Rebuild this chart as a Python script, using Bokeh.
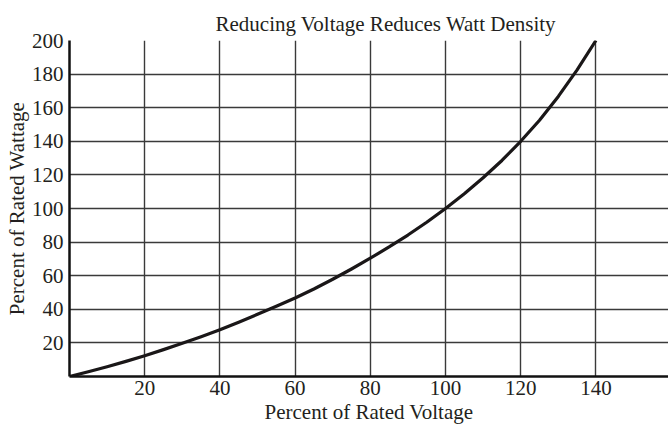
from bokeh.plotting import figure
from bokeh.models import Range1d, FixedTicker, Title
from bokeh.embed import file_html
from bokeh.resources import INLINE

# Data
voltage = [0, 5, 10, 15, 20, 25, 30, 35, 40, 45, 50, 55, 60, 65, 70, 75, 80,
           85, 90, 95, 100, 105, 110, 115, 120, 125, 130, 135, 140]
wattage = [0, 2.8, 5.8, 9.0, 12.4, 16.0, 19.8, 23.7, 27.8, 32.3, 37.0, 41.8, 46.7,
           52.1, 57.9, 64.0, 70.4, 77.1, 84.2, 91.8, 100, 108.8, 118.3, 128.6, 140,
           152.5, 166.7, 182.5, 200]
x_ticks = [20, 40, 60, 80, 100, 120, 140]
y_ticks = [20, 40, 60, 80, 100, 120, 140, 160, 180, 200]

title_text = "Reducing Voltage Reduces Watt Density"
x_label = "Percent of Rated Voltage"
y_label = "Percent of Rated Wattage"

FONT = "Liberation Serif"
TXT = "#231f20"

p = figure(width=668, height=426, output_backend="svg", toolbar_location=None,
           x_range=Range1d(0, 159.3), y_range=Range1d(0, 200),
           min_border_left=69, min_border_right=0, min_border_top=40, min_border_bottom=48)
p.title = None
p.add_layout(Title(text=title_text, align="left", offset=146, text_font=FONT,
                   text_font_size="21px", text_font_style="normal", text_color=TXT,
                   standoff=10), "above")

p.outline_line_color = None
p.background_fill_color = "white"
p.border_fill_color = "white"

p.line(voltage, wattage, line_color="#1a1718", line_width=3.2, line_join="round")

for ax in (p.xaxis[0], p.yaxis[0]):
    ax.axis_line_color = "#111111"
    ax.axis_line_width = 2.5
    ax.major_tick_line_color = None
    ax.minor_tick_line_color = None
    ax.major_tick_out = 0
    ax.major_tick_in = 0
    ax.minor_tick_out = 0
    ax.minor_tick_in = 0
    ax.major_label_text_font = FONT
    ax.major_label_text_font_size = "21px"
    ax.major_label_text_color = TXT
    ax.axis_label_text_font = FONT
    ax.axis_label_text_font_size = "21px"
    ax.axis_label_text_font_style = "normal"
    ax.axis_label_text_color = TXT

p.xaxis[0].ticker = FixedTicker(ticks=x_ticks)
p.yaxis[0].ticker = FixedTicker(ticks=y_ticks)
p.xaxis[0].axis_label = x_label
p.yaxis[0].axis_label = y_label
p.xaxis[0].major_label_standoff = 4
p.yaxis[0].major_label_standoff = 6
p.xaxis[0].axis_label_standoff = 2
p.yaxis[0].axis_label_standoff = 0

p.xgrid[0].ticker = FixedTicker(ticks=x_ticks)
p.ygrid[0].ticker = FixedTicker(ticks=y_ticks)
for g in (p.xgrid[0], p.ygrid[0]):
    g.grid_line_color = "#3a3a3a"
    g.grid_line_width = 1.4

open("out.html", "w").write(file_html(p, INLINE))
